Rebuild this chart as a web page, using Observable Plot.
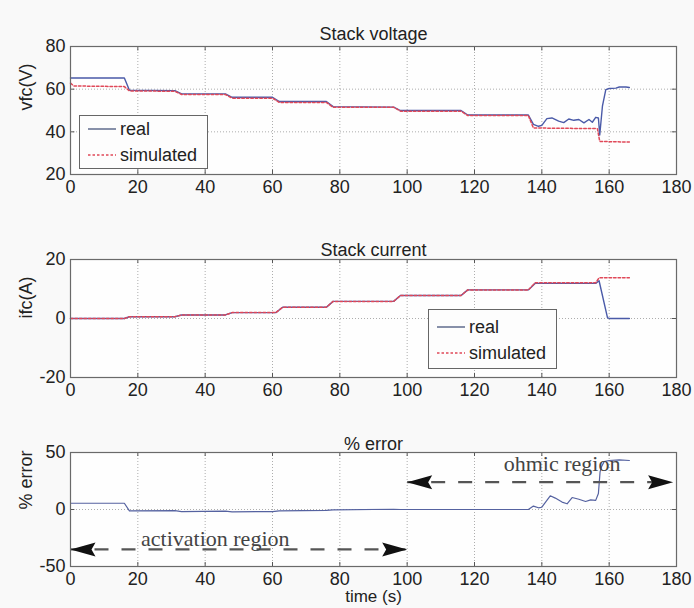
<!DOCTYPE html>
<html>
<head>
<meta charset="utf-8">
<script src="https://cdn.jsdelivr.net/npm/d3@7"></script>
<script src="https://cdn.jsdelivr.net/npm/@observablehq/plot@0.6"></script>
<style>
  body { margin: 0; background: #f9f9f9; }
  #wrap { position: relative; width: 694px; height: 608px; background: #f9f9f9; overflow: hidden;
          font-family: "Liberation Sans", Arial, sans-serif; color: #222; }
  .panel { position: absolute; left: 0; }
  .legend { position: absolute; border: 1.5px solid #666; background: #fdfdfd; font-size: 18px; color: #222; }
  .legend .row { position: absolute; left: 0; display: flex; align-items: center; }
  .legend svg { display: block; }
</style>
</head>
<body>
<div id="wrap"></div>
<script>
// ---------- data ----------
const timeTicks = [0, 20, 40, 60, 80, 100, 120, 140, 160, 180];
const voltTicks = [20, 40, 60, 80];
const currTicks = [-20, 0, 20];
const errTicks = [-50, 0, 50];

const titles = ["Stack voltage", "Stack current", "% error"];
const yLabels = ["vfc(V)", "ifc(A)", "% error"];
const xLabel = "time (s)";
const seriesNames = ["real", "simulated"];

// Stack voltage (real)
const tVReal = [0, 16, 17.5, 31, 33, 46, 48, 60, 62, 76, 78, 96, 98, 116, 118, 136, 137.5, 139, 140, 141.5, 143, 145, 146.5, 148, 149.5, 151, 152.5, 154, 155, 156, 156.8, 157.2, 158, 159, 160, 162, 163, 165, 166];
const vReal  = [65.2, 65.2, 59.5, 59.3, 57.8, 57.8, 56.2, 56.2, 54.2, 54.2, 51.8, 51.6, 50.0, 50.0, 47.9, 47.9, 43.5, 42.6, 43.0, 46.2, 46.5, 45.0, 44.3, 46.0, 45.4, 45.8, 44.2, 45.8, 44.5, 46.8, 46.5, 38.5, 52.0, 59.8, 60.3, 60.5, 61.0, 61.0, 60.8];
// Stack voltage (simulated)
const tVSim = [0, 1, 16, 17.5, 31, 33, 46, 48, 60, 62, 76, 78, 96, 98, 116, 118, 136, 137.5, 156.5, 157.2, 166];
const vSim  = [62.8, 61.5, 61.2, 59.2, 59.0, 57.5, 57.5, 55.8, 55.8, 53.8, 53.8, 51.5, 51.5, 49.7, 49.7, 47.6, 47.6, 41.8, 41.5, 35.5, 35.2];

// Stack current (real)
const tIReal = [0, 16, 17.5, 31, 33, 46, 48, 61, 63, 76, 78, 96, 98, 116, 118, 136, 138, 156, 157, 159.5, 160, 166];
const iReal  = [0, 0, 0.6, 0.6, 1.2, 1.2, 2.0, 2.0, 3.8, 3.8, 5.8, 5.8, 7.8, 7.8, 9.7, 9.7, 11.9, 11.9, 12.8, 0.3, 0, 0];
// Stack current (simulated)
const tISim = [0, 16, 17.5, 31, 33, 46, 48, 61, 63, 76, 78, 96, 98, 116, 118, 136, 138, 156, 157, 166];
const iSim  = [0, 0, 0.6, 0.6, 1.2, 1.2, 2.0, 2.0, 3.8, 3.8, 5.8, 5.8, 7.8, 7.8, 9.7, 9.7, 12.1, 12.1, 13.8, 13.8];

// % error
const tErr = [0, 16, 17.5, 31, 33, 46, 48, 60, 62, 76, 78, 96, 98, 136, 137.5, 139, 140, 141, 142.5, 144, 146, 147.5, 149, 151, 153, 154.5, 156, 156.8, 157.3, 157.8, 158.5, 160, 163, 166];
const err  = [5.5, 5.5, -1.2, -1.0, -1.8, -1.5, -2.0, -1.8, -1.2, -0.8, -0.3, 0.2, 0, 0, 3, 1.5, 2.0, 6, 12, 10, 6.5, 5, 10.5, 9, 7, 8.5, 8, 14, 33, 38, 42, 43, 43.5, 43];

// region annotations (% error panel)
const regionNames = ["activation region", "ohmic region"];
const regionStart = [0, 100];
const regionEnd   = [100, 179];
const regionArrowY = [-35, 24];
const regionLabelX = [43, 146];
const regionLabelY = [-26, 40];

// ---------- helpers ----------
const zip = (xs, ys) => xs.map((x, i) => ({x, y: ys[i]}));
const FONT = "'Liberation Sans', Arial, sans-serif";
const realColor = "#4a5aa8";
const simColor = "#e04858";

const arrowSymbol = {
  draw(ctx) {
    ctx.moveTo(0, 0);
    ctx.lineTo(-25, -7);
    ctx.lineTo(-21, 0);
    ctx.lineTo(-25, 7);
    ctx.closePath();
  }
};

function panel({top, height, mt, mb, domain, ticks, title, titleDy, ylabel, marks, extra = []}) {
  const inner = ticks.slice(1, -1);
  const span = domain[1] - domain[0];
  const innerT = timeTicks.slice(1, -1);
  const p = Plot.plot({
    width: 694, height,
    marginLeft: 70, marginRight: 18, marginTop: mt, marginBottom: mb,
    style: {background: "transparent", fontFamily: FONT, fontSize: "18px", color: "#222", overflow: "visible"},
    x: {domain: [0, 180]},
    y: {domain},
    marks: [
      Plot.frame({fill: "#fefefe", stroke: null}),
      Plot.gridX(innerT, {stroke: "#8a8a8a", strokeOpacity: 0.7, strokeDasharray: "1,2"}),
      Plot.gridY(inner, {stroke: "#8a8a8a", strokeOpacity: 0.7, strokeDasharray: "1,2"}),
      Plot.axisX(timeTicks, {tickSize: 0, tickPadding: 6, label: null, fontSize: 18, tickFormat: d => String(d)}),
      Plot.axisY(ticks, {tickSize: 0, tickPadding: 5, label: null, fontSize: 18, tickFormat: d => String(d)}),
      Plot.ruleX(innerT, {y1: domain[0], y2: domain[0] + span * 0.035, stroke: "#555"}),
      Plot.ruleX(innerT, {y1: domain[1], y2: domain[1] - span * 0.035, stroke: "#555"}),
      Plot.ruleY(inner, {x1: 0, x2: 1.3, stroke: "#555"}),
      Plot.ruleY(inner, {x1: 180, x2: 178.7, stroke: "#555"}),
      ...marks,
      Plot.frame({stroke: "#6a6a6a", strokeWidth: 1.2}),
      Plot.text([title], {text: d => d, frameAnchor: "top", dy: titleDy, fontSize: 18, fill: "#222"}),
      Plot.text([ylabel], {text: d => d, frameAnchor: "left", dx: -44, rotate: -90, fontSize: 18, fill: "#222"}),
      ...extra
    ]
  });
  p.classList.add("panel");
  p.style.top = top + "px";
  return p;
}

const wrap = document.getElementById("wrap");

// Panel 1: Stack voltage
wrap.appendChild(panel({
  top: 0, height: 200, mt: 46, mb: 26, domain: [20, 80], ticks: voltTicks,
  title: titles[0], titleDy: -19, ylabel: yLabels[0],
  marks: [
    Plot.line(zip(tVReal, vReal), {x: "x", y: "y", stroke: realColor, strokeWidth: 1.4}),
    Plot.line(zip(tVSim, vSim), {x: "x", y: "y", stroke: simColor, strokeWidth: 1.5, strokeDasharray: "2.5,2"})
  ]
}));

// Panel 2: Stack current
wrap.appendChild(panel({
  top: 200, height: 200, mt: 59, mb: 23, domain: [-20, 20], ticks: currTicks,
  title: titles[1], titleDy: -16, ylabel: yLabels[1],
  marks: [
    Plot.line(zip(tIReal, iReal), {x: "x", y: "y", stroke: realColor, strokeWidth: 1.4}),
    Plot.line(zip(tISim, iSim), {x: "x", y: "y", stroke: simColor, strokeWidth: 1.5, strokeDasharray: "2.5,2"})
  ]
}));

// Panel 3: % error
const arrows = [];
regionNames.forEach((n, i) => {
  arrows.push({x: regionStart[i], y: regionArrowY[i], r: 180});
  arrows.push({x: regionEnd[i], y: regionArrowY[i], r: 0});
});
const regions = regionNames.map((n, i) => ({name: n, x1: regionStart[i], x2: regionEnd[i], y: regionArrowY[i], lx: regionLabelX[i], ly: regionLabelY[i]}));

wrap.appendChild(panel({
  top: 400, height: 208, mt: 52, mb: 42, domain: [-50, 50], ticks: errTicks,
  title: titles[2], titleDy: -15, ylabel: yLabels[2],
  marks: [
    Plot.line(zip(tErr, err), {x: "x", y: "y", stroke: "#5562a0", strokeWidth: 1.2}),
    Plot.link(regions, {x1: "x1", x2: "x2", y1: "y", y2: "y", stroke: "#555", strokeWidth: 2.2, strokeDasharray: "14,13", strokeDashoffset: -24}),
    Plot.dot(arrows, {x: "x", y: "y", rotate: "r", symbol: arrowSymbol, fill: "#111", stroke: null, r: 5}),
    Plot.text(regions, {x: "lx", y: "ly", text: "name", fontFamily: "'Liberation Serif', 'Times New Roman', serif", fontSize: 22, fill: "#444"})
  ],
  extra: [
    Plot.text([xLabel], {text: d => d, frameAnchor: "bottom", dy: 35, fontSize: 17, fill: "#222"})
  ]
}));

// Legends (HTML overlays)
function legend(left, top, w, h, rowYs) {
  const box = document.createElement("div");
  box.className = "legend";
  Object.assign(box.style, {left: left + "px", top: top + "px", width: w + "px", height: h + "px"});
  seriesNames.forEach((name, i) => {
    const row = document.createElement("div");
    row.className = "row";
    row.style.top = (rowYs[i] - 11) + "px";
    row.style.height = "22px";
    const dash = i === 0 ? "" : "stroke-dasharray='2.5,2'";
    const col = i === 0 ? "#6a7594" : simColor;
    row.innerHTML = `<svg width="38" height="22"><line x1="8" x2="36" y1="11" y2="11" stroke="${col}" stroke-width="1.6" ${dash}/></svg><span style="margin-left:2px">${name}</span>`;
    box.appendChild(row);
  });
  wrap.appendChild(box);
}
legend(79, 115, 127, 52, [13, 39]);
legend(428, 309, 127, 58, [17, 43]);
</script>
</body>
</html>
